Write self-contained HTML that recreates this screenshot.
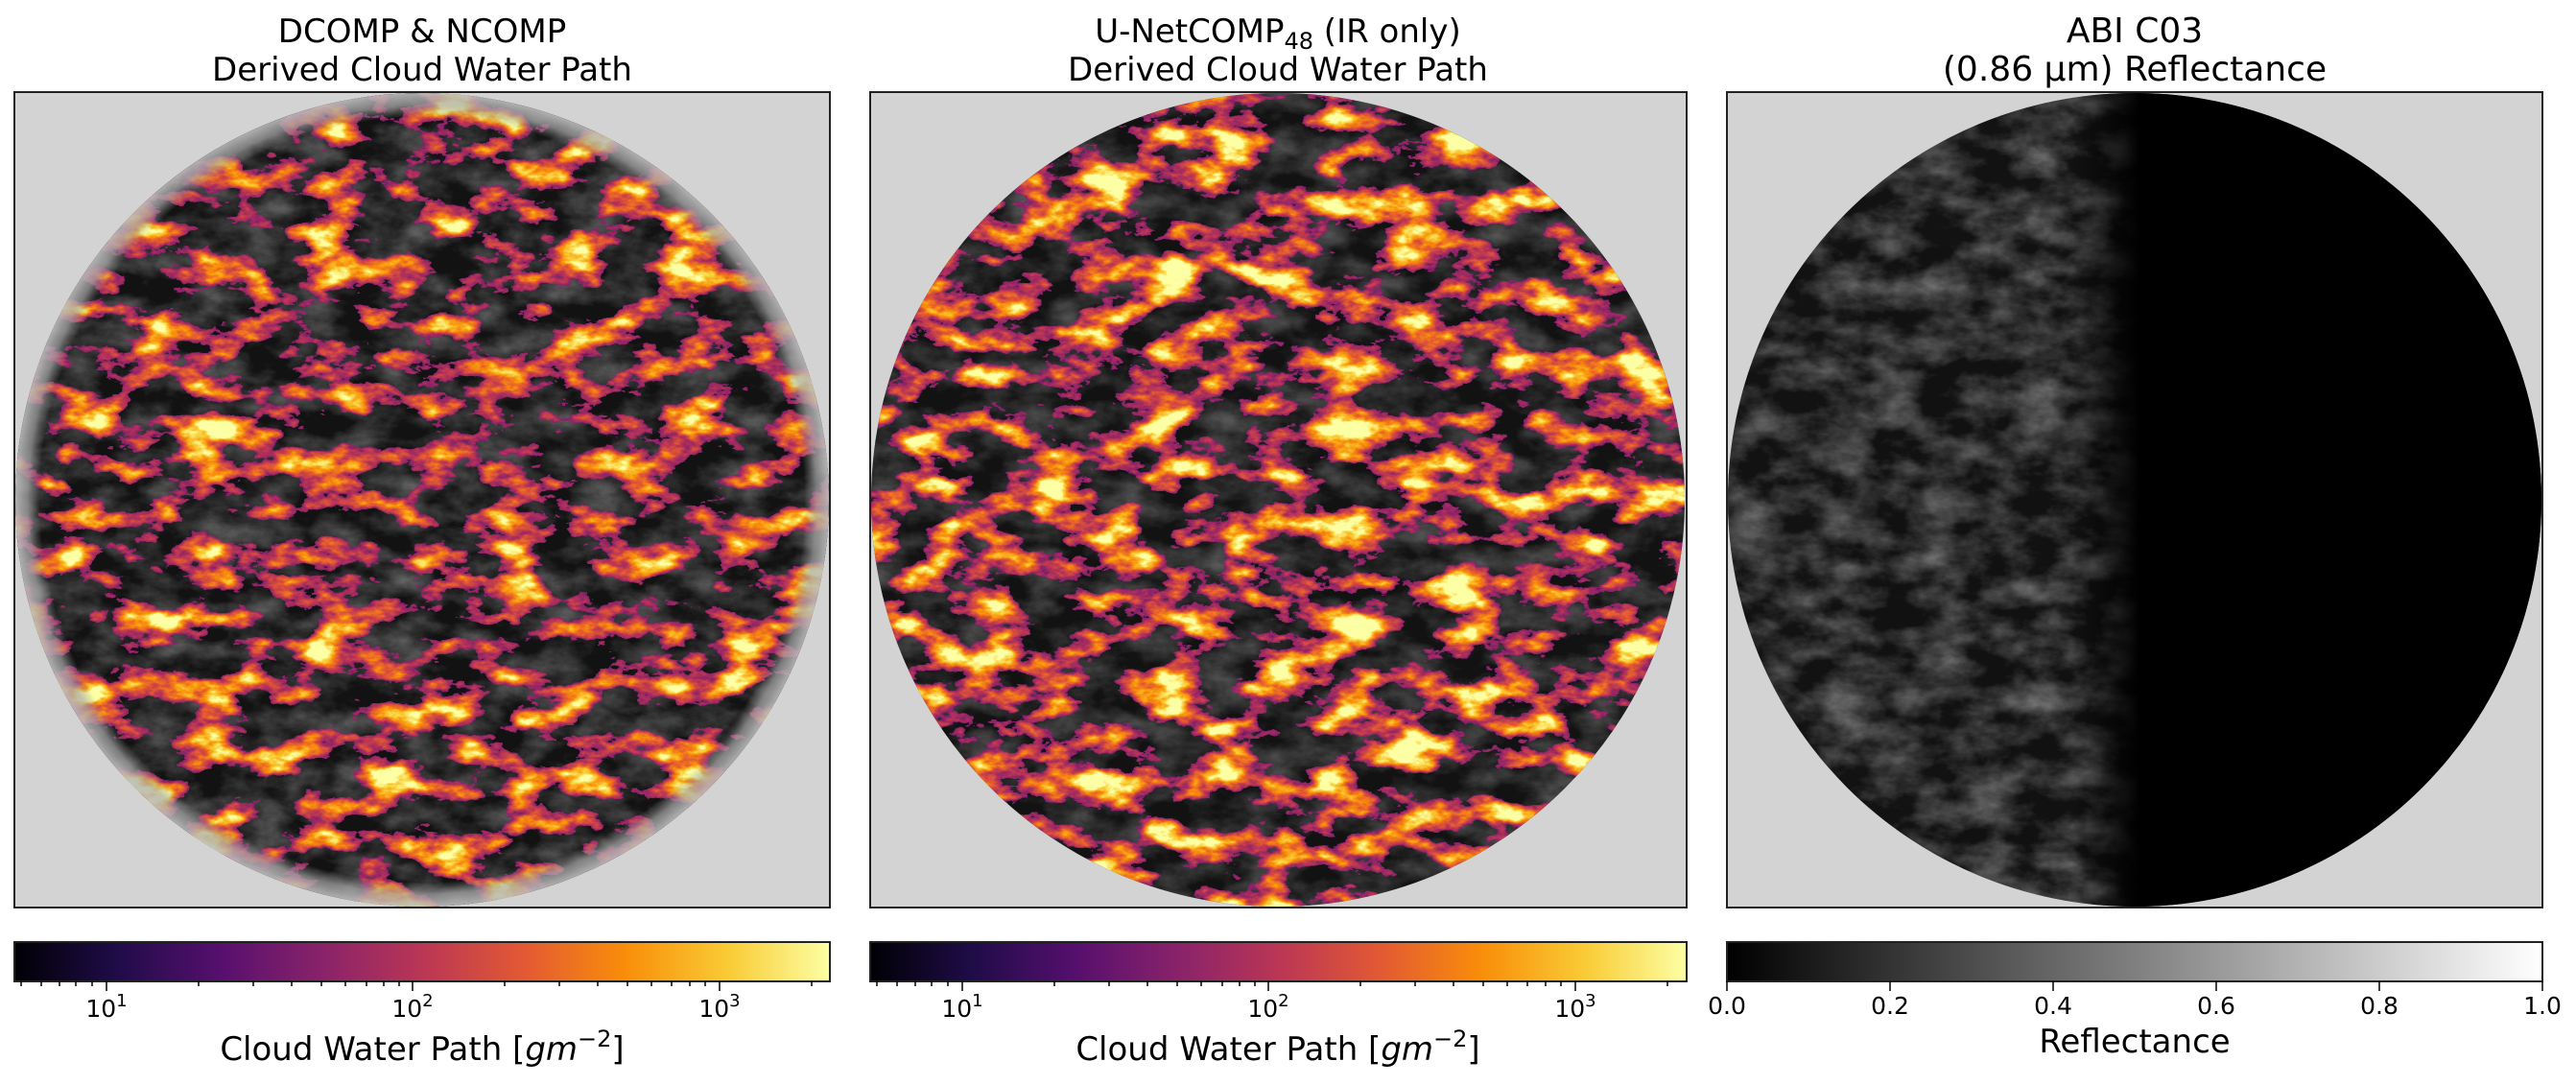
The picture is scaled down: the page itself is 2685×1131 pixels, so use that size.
<!DOCTYPE html>
<html><head><meta charset="utf-8"><style>
html,body{margin:0;padding:0;background:#fff;}
svg{display:block;font-family:"DejaVu Sans","Liberation Sans",sans-serif;}
</style></head><body>
<svg width="2685" height="1131" viewBox="0 0 2685 1131" xmlns="http://www.w3.org/2000/svg">
<defs>
<linearGradient id="inferno" x1="0" x2="1" y1="0" y2="0">
<stop offset="0" stop-color="#000004"/><stop offset="0.125" stop-color="#1f0c48"/>
<stop offset="0.25" stop-color="#550f6d"/><stop offset="0.375" stop-color="#88226a"/>
<stop offset="0.5" stop-color="#ba3655"/><stop offset="0.625" stop-color="#e35933"/>
<stop offset="0.75" stop-color="#f98e09"/><stop offset="0.875" stop-color="#f9cb35"/>
<stop offset="1" stop-color="#fcffa4"/></linearGradient>
<linearGradient id="gray" x1="0" x2="1"><stop offset="0" stop-color="#000"/><stop offset="1" stop-color="#fff"/></linearGradient>
<filter id="cl1" x="0" y="0" width="100%" height="100%" color-interpolation-filters="sRGB">
<feTurbulence type="fractalNoise" baseFrequency="0.016 0.03" numOctaves="5" seed="7"/>
<feColorMatrix type="matrix" values="2.4 0 0 0 -0.85  2.4 0 0 0 -0.85  2.4 0 0 0 -0.85  0 0 0 0 1"/>
<feComponentTransfer>
<feFuncR type="table" tableValues="0 0.12 0.33 0.53 0.73 0.89 0.98 0.98 0.99"/>
<feFuncG type="table" tableValues="0 0.05 0.06 0.13 0.21 0.35 0.56 0.8 1"/>
<feFuncB type="table" tableValues="0.02 0.28 0.43 0.42 0.33 0.2 0.04 0.21 0.64"/>
</feComponentTransfer>
<feColorMatrix type="matrix" values="1 0 0 0 0  0 1 0 0 0  0 0 1 0 0  4 0 0 0 -1.6"/>
<feComponentTransfer><feFuncA type="discrete" tableValues="0 1"/></feComponentTransfer>
</filter>
<filter id="cl2" x="0" y="0" width="100%" height="100%" color-interpolation-filters="sRGB">
<feTurbulence type="fractalNoise" baseFrequency="0.016 0.03" numOctaves="5" seed="21"/>
<feColorMatrix type="matrix" values="2.5 0 0 0 -0.85  2.5 0 0 0 -0.85  2.5 0 0 0 -0.85  0 0 0 0 1"/>
<feComponentTransfer>
<feFuncR type="table" tableValues="0 0.12 0.33 0.53 0.73 0.89 0.98 0.98 0.99"/>
<feFuncG type="table" tableValues="0 0.05 0.06 0.13 0.21 0.35 0.56 0.8 1"/>
<feFuncB type="table" tableValues="0.02 0.28 0.43 0.42 0.33 0.2 0.04 0.21 0.64"/>
</feComponentTransfer>
<feColorMatrix type="matrix" values="1 0 0 0 0  0 1 0 0 0  0 0 1 0 0  4 0 0 0 -1.5"/>
<feComponentTransfer><feFuncA type="discrete" tableValues="0 1"/></feComponentTransfer>
</filter>
<filter id="gr" x="0" y="0" width="100%" height="100%" color-interpolation-filters="sRGB">
<feTurbulence type="fractalNoise" baseFrequency="0.02 0.035" numOctaves="5" seed="3"/>
<feColorMatrix type="matrix" values="1.6 0 0 0 -0.55  1.6 0 0 0 -0.55  1.6 0 0 0 -0.55  0 0 0 0 1"/>
</filter>
<linearGradient id="term" x1="0" x2="1"><stop offset="0" stop-color="#000" stop-opacity="0"/><stop offset="1" stop-color="#000" stop-opacity="1"/></linearGradient>
<radialGradient id="limb" cx="0.5" cy="0.5" r="0.5"><stop offset="0.94" stop-color="#9a9a9a" stop-opacity="0"/><stop offset="0.97" stop-color="#a8a8a8" stop-opacity="0.7"/><stop offset="1" stop-color="#bdbdbd" stop-opacity="0.9"/></radialGradient>
<clipPath id="d1"><circle cx="440" cy="521" r="424"/></clipPath>
<clipPath id="d2"><circle cx="1332" cy="521" r="424"/></clipPath>
<clipPath id="d3"><circle cx="2225" cy="521" r="424"/></clipPath>
</defs>

<rect x="15" y="96" width="850" height="850" fill="#d3d3d3"/>
<g clip-path="url(#d1)">
<rect x="15" y="96" width="850" height="850" fill="#1c1c1c"/>
<rect x="15" y="96" width="850" height="850" filter="url(#gr)" opacity="0.35"/>
<rect x="15" y="96" width="850" height="850" filter="url(#cl1)"/>
<circle cx="440" cy="521" r="424" fill="url(#limb)"/>
</g>
<rect x="15" y="96" width="850" height="850" fill="none" stroke="#222" stroke-width="2"/>

<rect x="907" y="96" width="851" height="850" fill="#d3d3d3"/>
<g clip-path="url(#d2)">
<rect x="907" y="96" width="851" height="850" fill="#1a1a1a"/>
<rect x="907" y="96" width="851" height="850" filter="url(#gr)" opacity="0.3"/>
<rect x="907" y="96" width="851" height="850" filter="url(#cl2)"/>
</g>
<rect x="907" y="96" width="851" height="850" fill="none" stroke="#222" stroke-width="2"/>

<rect x="1800" y="96" width="850" height="850" fill="#d3d3d3"/>
<g clip-path="url(#d3)">
<rect x="1800" y="96" width="850" height="850" fill="#1e1e1e"/>
<rect x="1800" y="96" width="850" height="850" filter="url(#gr)" opacity="0.4"/>
<rect x="2160" y="96" width="70" height="850" fill="url(#term)"/>
<rect x="2229" y="96" width="430" height="850" fill="#000"/>
</g>
<rect x="1800" y="96" width="850" height="850" fill="none" stroke="#222" stroke-width="2"/>

<g font-size="34" text-anchor="middle" fill="#000">
<text x="440" y="44">DCOMP &amp; NCOMP</text>
<text x="440" y="84">Derived Cloud Water Path</text>
<text x="1332" y="44">U-NetCOMP<tspan font-size="24" dy="7">48</tspan><tspan dy="-7"> (IR only)</tspan></text>
<text x="1332" y="84">Derived Cloud Water Path</text>
<text x="2225" y="44" font-size="36">ABI C03</text>
<text x="2225" y="84" font-size="36">(0.86 µm) Reflectance</text>
</g>

<rect x="15" y="982" width="850" height="41" fill="url(#inferno)" stroke="#222" stroke-width="2"/>
<rect x="907" y="982" width="851" height="41" fill="url(#inferno)" stroke="#222" stroke-width="2"/>
<rect x="1800" y="982" width="850" height="41" fill="url(#gray)" stroke="#222" stroke-width="2"/>

<g stroke="#000" stroke-width="1.5">
<path d="M111 1023v10M430 1023v10M750 1023v10
M22 1023v5M43 1023v5M62 1023v5M79 1023v5M96 1023v5
M207 1023v5M264 1023v5M304 1023v5M335 1023v5M360 1023v5M382 1023v5M400 1023v5M416 1023v5
M526 1023v5M583 1023v5M623 1023v5M654 1023v5M679 1023v5M700 1023v5M719 1023v5M735 1023v5
M846 1023v5"/>
<path transform="translate(892,0)" d="M111 1023v10M430 1023v10M750 1023v10
M22 1023v5M43 1023v5M62 1023v5M79 1023v5M96 1023v5
M207 1023v5M264 1023v5M304 1023v5M335 1023v5M360 1023v5M382 1023v5M400 1023v5M416 1023v5
M526 1023v5M583 1023v5M623 1023v5M654 1023v5M679 1023v5M700 1023v5M719 1023v5M735 1023v5
M846 1023v5"/>
<path d="M1800 1023v10M1970 1023v10M2140 1023v10M2310 1023v10M2480 1023v10M2650 1023v10"/>
</g>

<g font-size="25" text-anchor="middle" fill="#000">
<text x="111" y="1060">10<tspan font-size="18" dy="-11">1</tspan></text>
<text x="430" y="1060">10<tspan font-size="18" dy="-11">2</tspan></text>
<text x="750" y="1060">10<tspan font-size="18" dy="-11">3</tspan></text>
<text x="1003" y="1060">10<tspan font-size="18" dy="-11">1</tspan></text>
<text x="1322" y="1060">10<tspan font-size="18" dy="-11">2</tspan></text>
<text x="1642" y="1060">10<tspan font-size="18" dy="-11">3</tspan></text>
<text x="1800" y="1057">0.0</text><text x="1970" y="1057">0.2</text><text x="2140" y="1057">0.4</text>
<text x="2310" y="1057">0.6</text><text x="2480" y="1057">0.8</text><text x="2650" y="1057">1.0</text>
</g>
<g font-size="34" text-anchor="middle" fill="#000">
<text x="440" y="1105">Cloud Water Path [<tspan font-style="italic">gm</tspan><tspan font-size="24" dy="-14">−2</tspan><tspan dy="14">]</tspan></text>
<text x="1332" y="1105">Cloud Water Path [<tspan font-style="italic">gm</tspan><tspan font-size="24" dy="-14">−2</tspan><tspan dy="14">]</tspan></text>
<text x="2225" y="1097">Reflectance</text>
</g>
</svg>
</body></html>
